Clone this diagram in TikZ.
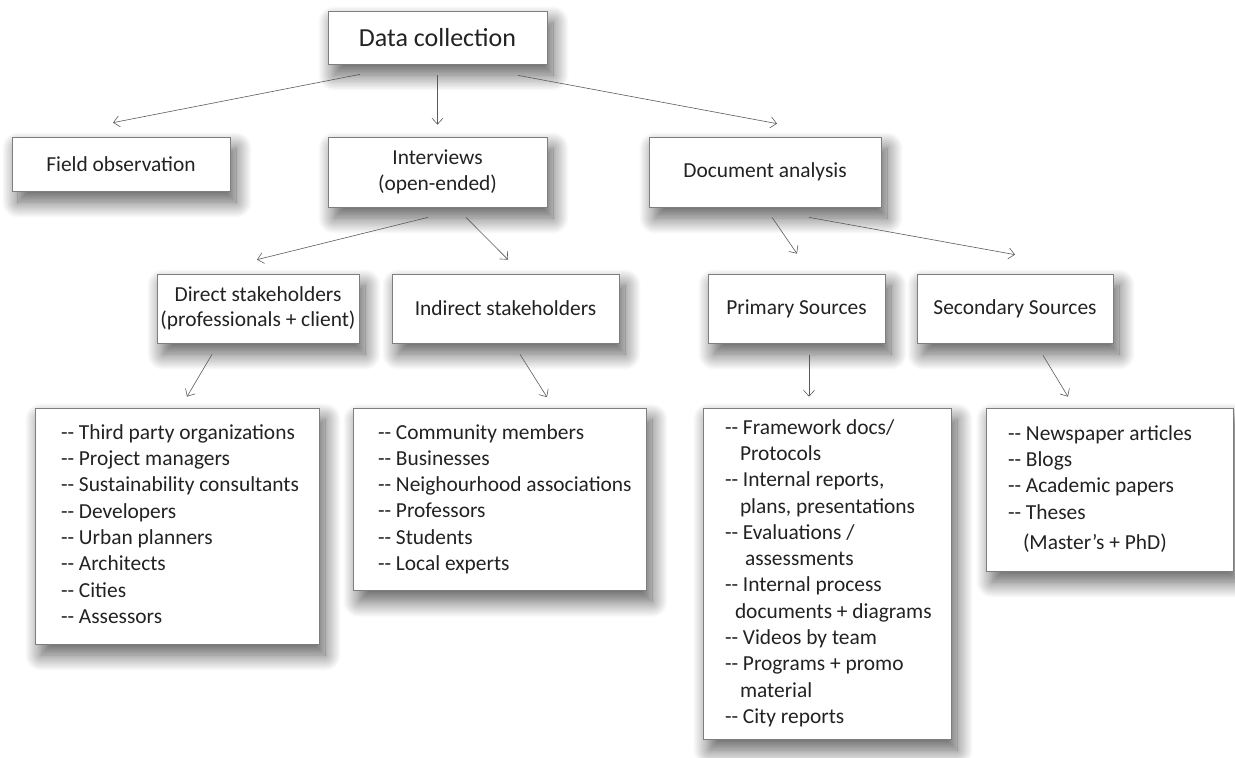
\documentclass[tikz,border=0pt]{standalone}
\usepackage{fontspec}
\setmainfont{Carlito}[Ligatures=TeXOff]
\usetikzlibrary{shadows.blur,arrows.meta,calc}
\definecolor{boxline}{HTML}{7E7E7E}
\definecolor{txt}{HTML}{222222}
\definecolor{arr}{HTML}{5A5A5A}
\newcommand\lstbox[2]{\makebox[#1][l]{\begin{tabular}{@{}l@{}}#2\end{tabular}}}
\newcommand\ind[1]{\hspace*{#1pt}}
\begin{document}
\begin{tikzpicture}[x=1pt,y=-1pt,
  box/.style={draw=boxline, line width=0.7pt, fill=white, text=txt, inner sep=0pt, align=center,
    font=\fontsize{21.4}{25.5}\selectfont,
    blur shadow={shadow xshift=6pt,shadow yshift=-11pt,shadow blur radius=16pt,shadow blur steps=20,shadow opacity=65}},
  listbox/.style={box, font=\fontsize{21.4}{26.3}\selectfont},
  conn/.style={draw=arr, line width=0.6pt, -{Straight Barb[length=6pt,width=11pt]}},
]
\useasboundingbox (0,0) rectangle (1235,758);

\node[box, minimum width=219pt, minimum height=53pt, font=\fontsize{26}{31}\selectfont] (dc) at (437.5,37.5) {Data collection};
\node[box, minimum width=218pt, minimum height=54pt] (field) at (121,164) {Field observation};
\node[box, minimum width=219pt, minimum height=70pt] (interviews) at (437.5,172) {Interviews\\(open-ended)};
\node[box, minimum width=232pt, minimum height=70pt] (docan) at (765,172) {Document analysis};
\node[box, minimum width=202pt, minimum height=69pt] (direct) at (258,308.5) {Direct stakeholders\\(professionals + client)};
\node[box, minimum width=227pt, minimum height=69pt] (indirect) at (505.5,308.5) {Indirect stakeholders};
\node[box, minimum width=177pt, minimum height=69pt] (primary) at (796.5,308.5) {Primary Sources};
\node[box, minimum width=196pt, minimum height=69pt] (secondary) at (1015,308.5) {Secondary Sources};

\node[listbox, inner xsep=26pt, minimum height=236pt] (dlist) at (177,526)
  {\lstbox{232pt}{-- Third party organizations\\-- Project managers\\-- Sustainability consultants\\-- Developers\\-- Urban planners\\-- Architects\\-- Cities\\-- Assessors}};
\node[listbox, inner xsep=25pt, minimum height=182pt] (ilist) at (499.5,499.5)
  {\lstbox{243pt}{-- Community members\\-- Businesses\\-- Neighourhood associations\\-- Professors\\-- Students\\-- Local experts}};
\node[listbox, inner xsep=22pt, minimum height=331pt] (plist) at (827,573.5)
  {\lstbox{204pt}{-- Framework docs/\\\ind{15}Protocols\\-- Internal reports,\\\ind{15}plans, presentations\\-- Evaluations /\\\ind{20}assessments\\-- Internal process\\\ind{10}documents + diagrams\\-- Videos by team\\-- Programs + promo\\\ind{15}material\\-- City reports}};
\node[listbox, inner xsep=22pt, minimum height=163pt] (slist) at (1109.5,489.5)
  {\lstbox{203pt}{-- Newspaper articles\\-- Blogs\\-- Academic papers\\-- Theses\\[4pt]\ind{15}(Master’s + PhD)}};

\draw[conn] ($(dc.south)+(-77.5,10)$) -- ($(field.north)+(-8,-14)$);
\draw[conn] ($(dc.south)+(0,11)$) -- ($(interviews.north)+(0,-12)$);
\draw[conn] ($(dc.south)+(80.5,11)$) -- ($(docan.north)+(12,-13)$);
\draw[conn] ($(interviews.south)+(-9.5,10)$) -- ($(direct.north)+(-1,-14)$);
\draw[conn] ($(interviews.south)+(28.5,10)$) -- ($(indirect.north)+(2.5,-14)$);
\draw[conn] ($(docan.south)+(7,10)$) -- ($(primary.north)+(0.5,-20)$);
\draw[conn] ($(docan.south)+(44,10)$) -- ($(secondary.north)+(0,-19)$);
\draw[conn] ($(direct.south)+(-46,11)$) -- ($(dlist.north)+(10,-11)$);
\draw[conn] ($(indirect.south)+(14.5,11)$) -- ($(ilist.north)+(47.5,-11)$);
\draw[conn] ($(primary.south)+(12.5,12)$) -- ($(plist.north)+(-18,-11)$);
\draw[conn] ($(secondary.south)+(28,12)$) -- ($(slist.north)+(-41.5,-11)$);
\end{tikzpicture}
\end{document}
